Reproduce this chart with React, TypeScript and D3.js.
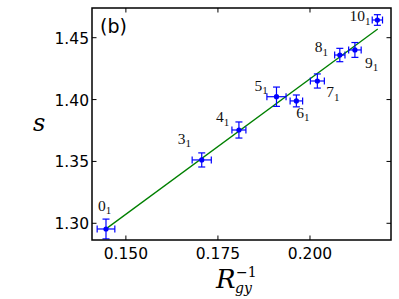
import React from 'react';
import * as d3 from 'd3';

// knot types and measured values
const knots = ['0', '3', '4', '5', '6', '7', '8', '9', '10'];
const invRgy = [0.1446, 0.1706, 0.1807, 0.1909, 0.1963, 0.202, 0.2081, 0.2122, 0.2183];
const sVals = [1.2954, 1.3512, 1.3754, 1.4023, 1.3989, 1.415, 1.436, 1.4401, 1.4643];
const xErr = [0.0024, 0.0026, 0.0019, 0.0026, 0.0017, 0.0019, 0.0014, 0.0017, 0.0014];
const yErr = [0.008, 0.0057, 0.0065, 0.0078, 0.0048, 0.0057, 0.0054, 0.006, 0.0043];

// linear fit
const fitX = [0.1446, 0.2184];
const fitY = [1.2955, 1.457];

const xTicks = [0.15, 0.175, 0.2];
const yTicks = [1.3, 1.35, 1.4, 1.45];

// label nudges in px from each point (annotation placement)
const labelNudge: [number, number][] = [
  [-8, -18],
  [-24, -16],
  [-23, -8],
  [-22, -6],
  [0, 17],
  [9, 16],
  [-25, -3],
  [10, 18],
  [-28, 1],
];

const W = 399;
const H = 299;
const margin = { top: 8, right: 8, bottom: 59, left: 92 };

export default function App() {
  const x = d3.scaleLinear().domain([0.1408, 0.222]).range([margin.left, W - margin.right]);
  const y = d3.scaleLinear().domain([1.2865, 1.474]).range([H - margin.bottom, margin.top]);
  const line = d3
    .line<number>()
    .x((_, i) => x(fitX[i]))
    .y((d) => y(d));

  const blue = '#0000ff';
  const x0 = margin.left;
  const x1 = W - margin.right;
  const y0 = H - margin.bottom;
  const y1 = margin.top;
  const tickLen = 4.5;

  return (
    <div style={{ position: 'fixed', left: 0, top: 0 }}>
      <svg width={W} height={H} style={{ display: 'block', background: '#fff' }}>
        {/* fit line */}
        <path d={line(fitY) || ''} fill="none" stroke="#008000" strokeWidth={1.3} />

        {/* error bars + points */}
        {invRgy.map((v, i) => {
          const cx = x(v);
          const cy = y(sVals[i]);
          const xl = x(v - xErr[i]);
          const xr = x(v + xErr[i]);
          const yt = y(sVals[i] + yErr[i]);
          const yb = y(sVals[i] - yErr[i]);
          return (
            <g key={i} stroke={blue} strokeWidth={1.2}>
              <line x1={xl} x2={xr} y1={cy} y2={cy} />
              <line x1={cx} x2={cx} y1={yt} y2={yb} />
              <line x1={xl} x2={xl} y1={cy - 3.5} y2={cy + 3.5} />
              <line x1={xr} x2={xr} y1={cy - 3.5} y2={cy + 3.5} />
              <line x1={cx - 3.5} x2={cx + 3.5} y1={yt} y2={yt} />
              <line x1={cx - 3.5} x2={cx + 3.5} y1={yb} y2={yb} />
              <circle cx={cx} cy={cy} r={2.6} fill={blue} stroke="none" />
            </g>
          );
        })}

        {/* labels */}
        {knots.map((k, i) => (
          <text
            key={k}
            x={x(invRgy[i]) + labelNudge[i][0]}
            y={y(sVals[i]) + labelNudge[i][1]}
            fontFamily="'Liberation Serif', serif"
            fontSize={15.5}
            fill="#111"
          >
            {k}
            <tspan fontSize={11} dy={3.5}>
              1
            </tspan>
          </text>
        ))}

        {/* frame */}
        <rect x={x0} y={y1} width={x1 - x0} height={y0 - y1} fill="none" stroke="#000" strokeWidth={1.5} />

        {xTicks.map((t) => (
          <g key={t}>
            <line x1={x(t)} x2={x(t)} y1={y0} y2={y0 - tickLen} stroke="#000" strokeWidth={1} />
            <line x1={x(t)} x2={x(t)} y1={y1} y2={y1 + tickLen} stroke="#000" strokeWidth={1} />
            <text
              x={x(t)}
              y={y0 + 18.5}
              textAnchor="middle"
              fontFamily="'DejaVu Sans', sans-serif"
              fontSize={15.5}
              fill="#000"
            >
              {d3.format('.3f')(t)}
            </text>
          </g>
        ))}
        {yTicks.map((t) => (
          <g key={t}>
            <line x1={x0} x2={x0 + tickLen} y1={y(t)} y2={y(t)} stroke="#000" strokeWidth={1} />
            <line x1={x1} x2={x1 - tickLen} y1={y(t)} y2={y(t)} stroke="#000" strokeWidth={1} />
            <text
              x={x0 - 3}
              y={y(t) + 6}
              textAnchor="end"
              fontFamily="'DejaVu Sans', sans-serif"
              fontSize={15.5}
              fill="#000"
            >
              {d3.format('.2f')(t)}
            </text>
          </g>
        ))}

        {/* panel tag */}
        <text x={100} y={33} fontFamily="'DejaVu Sans', sans-serif" fontSize={19} fill="#000">
          (b)
        </text>

        {/* axis titles */}
        <text x={33} y={131} fontFamily="'DejaVu Serif', serif" fontStyle="italic" fontSize={24} fill="#000">
          s
        </text>
        <g fontFamily="'DejaVu Serif', serif" fill="#000">
          <text x={216} y={288} fontStyle="italic" fontSize={26}>
            R
          </text>
          <text x={235} y={293} fontStyle="italic" fontSize={14}>
            gy
          </text>
          <text x={236} y={277} fontSize={14}>
            −1
          </text>
        </g>
      </svg>
    </div>
  );
}
